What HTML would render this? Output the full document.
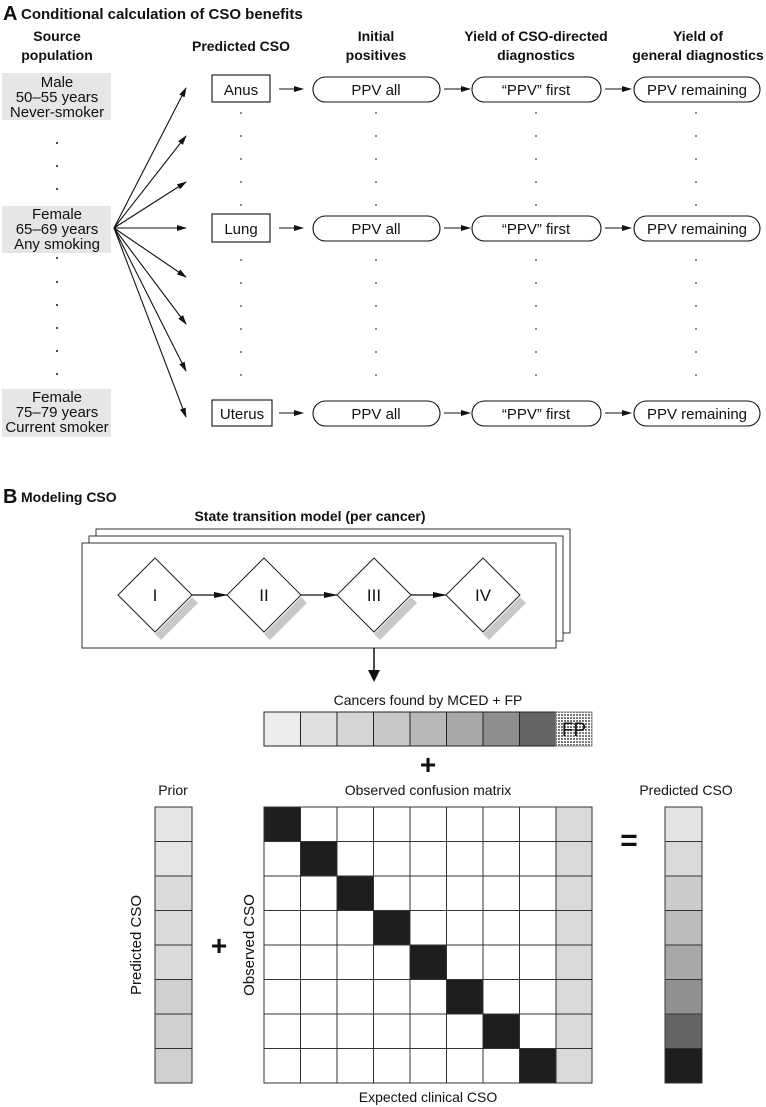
<!DOCTYPE html>
<html><head><meta charset="utf-8"><style>
html,body{margin:0;padding:0;background:#fff;}
svg{display:block;font-family:"Liberation Sans",Arial,sans-serif;}
</style></head><body>
<svg width="766" height="1107" viewBox="0 0 766 1107" xmlns="http://www.w3.org/2000/svg">
<defs>
<marker id="ah" markerWidth="10" markerHeight="8" refX="9" refY="4" orient="auto" markerUnits="userSpaceOnUse"><path d="M0,1 L10,4 L0,7 z" fill="#111"/></marker>
<marker id="ah2" markerWidth="14" markerHeight="8" refX="13" refY="4" orient="auto" markerUnits="userSpaceOnUse"><path d="M0,1 L14,4 L0,7 z" fill="#111"/></marker>
<pattern id="dots" width="3" height="3" patternUnits="userSpaceOnUse"><rect width="3" height="3" fill="#fff"/><rect width="2" height="2" fill="#777"/></pattern>
</defs>
<g fill="#111">
<text x="3" y="20" font-size="20" font-weight="bold">A</text>
<text x="21" y="19" font-size="15" font-weight="bold">Conditional calculation of CSO benefits</text>
<g font-size="14" font-weight="bold" text-anchor="middle">
<text x="57" y="41">Source</text><text x="57" y="60">population</text>
<text x="241" y="51">Predicted CSO</text>
<text x="376" y="41">Initial</text><text x="376" y="60">positives</text>
<text x="536" y="41">Yield of CSO-directed</text><text x="536" y="60">diagnostics</text>
<text x="698" y="41">Yield of</text><text x="698" y="60">general diagnostics</text>
</g>
</g>
<g fill="#e6e6e6">
<rect x="2" y="73" width="109" height="47"/>
<rect x="2" y="206" width="109" height="47"/>
<rect x="2" y="389" width="109" height="48"/>
</g>
<g font-size="15" text-anchor="middle" fill="#111">
<text x="57" y="87">Male</text><text x="57" y="102">50–55 years</text><text x="57" y="117">Never-smoker</text>
<text x="57" y="219">Female</text><text x="57" y="234">65–69 years</text><text x="57" y="249">Any smoking</text>
<text x="57" y="402">Female</text><text x="57" y="417">75–79 years</text><text x="57" y="432">Current smoker</text>
</g>
<g fill="#111">
<circle cx="57" cy="143" r="1"/><circle cx="57" cy="166" r="1"/><circle cx="57" cy="189" r="1"/>
<circle cx="57" cy="258" r="1"/><circle cx="57" cy="282" r="1"/><circle cx="57" cy="305" r="1"/><circle cx="57" cy="328" r="1"/><circle cx="57" cy="351" r="1"/><circle cx="57" cy="374" r="1"/>
</g>
<g stroke="#111" stroke-width="1.1" marker-end="url(#ah)">
<line x1="114" y1="228" x2="186" y2="88"/>
<line x1="114" y1="228" x2="186" y2="136"/>
<line x1="114" y1="228" x2="186" y2="182"/>
<line x1="114" y1="228" x2="186" y2="228"/>
<line x1="114" y1="228" x2="186" y2="277"/>
<line x1="114" y1="228" x2="186" y2="324"/>
<line x1="114" y1="228" x2="186" y2="371"/>
<line x1="114" y1="228" x2="186" y2="417"/>
</g>
<g>
<g fill="#fff" stroke="#111" stroke-width="1.1">
<rect x="212" y="75" width="58" height="27"/>
<rect x="313" y="77" width="127" height="25" rx="12.5"/>
<rect x="472" y="77" width="129" height="25" rx="12.5"/>
<rect x="634" y="77" width="126" height="25" rx="12.5"/>
</g>
<g stroke="#111" stroke-width="1.1" marker-end="url(#ah)">
<line x1="279" y1="89" x2="303" y2="89"/><line x1="444" y1="89" x2="470" y2="89"/><line x1="605" y1="89" x2="631" y2="89"/>
</g>
<g font-size="15" text-anchor="middle" fill="#111">
<text x="241" y="95">Anus</text><text x="376" y="95">PPV all</text><text x="536" y="95">“PPV” first</text><text x="697" y="95">PPV remaining</text>
</g>
</g>
<g>
<g fill="#fff" stroke="#111" stroke-width="1.1">
<rect x="212" y="214" width="58" height="28"/>
<rect x="313" y="216" width="127" height="25" rx="12.5"/>
<rect x="472" y="216" width="129" height="25" rx="12.5"/>
<rect x="634" y="216" width="126" height="25" rx="12.5"/>
</g>
<g stroke="#111" stroke-width="1.1" marker-end="url(#ah)">
<line x1="279" y1="228" x2="303" y2="228"/><line x1="444" y1="228" x2="470" y2="228"/><line x1="605" y1="228" x2="631" y2="228"/>
</g>
<g font-size="15" text-anchor="middle" fill="#111">
<text x="241" y="234">Lung</text><text x="376" y="234">PPV all</text><text x="536" y="234">“PPV” first</text><text x="697" y="234">PPV remaining</text>
</g>
</g>
<g>
<g fill="#fff" stroke="#111" stroke-width="1.1">
<rect x="212" y="400" width="60" height="26"/>
<rect x="313" y="401" width="127" height="25" rx="12.5"/>
<rect x="472" y="401" width="129" height="25" rx="12.5"/>
<rect x="634" y="401" width="126" height="25" rx="12.5"/>
</g>
<g stroke="#111" stroke-width="1.1" marker-end="url(#ah)">
<line x1="279" y1="413" x2="303" y2="413"/><line x1="444" y1="413" x2="470" y2="413"/><line x1="605" y1="413" x2="631" y2="413"/>
</g>
<g font-size="15" text-anchor="middle" fill="#111">
<text x="242" y="419">Uterus</text><text x="376" y="419">PPV all</text><text x="536" y="419">“PPV” first</text><text x="697" y="419">PPV remaining</text>
</g>
</g>
<g fill="#333">
<g id="dc"><circle cx="241" cy="113" r="0.9"/><circle cx="241" cy="136" r="0.9"/><circle cx="241" cy="159" r="0.9"/><circle cx="241" cy="182" r="0.9"/><circle cx="241" cy="205" r="0.9"/>
<circle cx="241" cy="260" r="0.9"/><circle cx="241" cy="283" r="0.9"/><circle cx="241" cy="306" r="0.9"/><circle cx="241" cy="329" r="0.9"/><circle cx="241" cy="352" r="0.9"/><circle cx="241" cy="375" r="0.9"/></g>
<use href="#dc" x="135"/><use href="#dc" x="295"/><use href="#dc" x="455"/>
</g>
<text x="3" y="503" font-size="20" font-weight="bold" fill="#111">B</text>
<text x="21" y="502" font-size="14" font-weight="bold" fill="#111">Modeling CSO</text>
<text x="310" y="521" font-size="14" font-weight="bold" text-anchor="middle" fill="#111">State transition model (per cancer)</text>
<g fill="#fff" stroke="#333" stroke-width="1">
<rect x="96" y="529" width="474" height="104"/>
<rect x="89" y="536" width="474" height="105"/>
<rect x="82" y="543" width="474" height="105"/>
</g>
<g id="dm">
<path d="M192,597 L198,603 L161,640 L155,634 z" fill="#c8c8c8"/>
<path d="M155,558 L192,595 L155,632 L118,595 z" fill="#fff" stroke="#222" stroke-width="1"/>
</g>
<use href="#dm" x="109"/><use href="#dm" x="219"/><use href="#dm" x="328"/>
<g stroke="#111" stroke-width="1.2" marker-end="url(#ah2)">
<line x1="192" y1="595" x2="227" y2="595"/><line x1="301" y1="595" x2="337" y2="595"/><line x1="411" y1="595" x2="446" y2="595"/>
</g>
<g font-size="17" text-anchor="middle" fill="#111">
<text x="155" y="601">I</text><text x="264" y="601">II</text><text x="374" y="601">III</text><text x="483" y="601">IV</text>
</g>
<line x1="374" y1="648" x2="374" y2="680" stroke="#111" stroke-width="1.5"/>
<path d="M368,670 L374,682 L380,670 z" fill="#111"/>
<text x="428" y="705" font-size="14" text-anchor="middle" fill="#111">Cancers found by MCED + FP</text>
<g stroke="#222" stroke-width="1">
<rect x="264" y="712" width="36.5" height="34" fill="#ececec"/>
<rect x="300.5" y="712" width="36.5" height="34" fill="#e0e0e0"/>
<rect x="337" y="712" width="36.5" height="34" fill="#d6d6d6"/>
<rect x="373.5" y="712" width="36.5" height="34" fill="#c8c8c8"/>
<rect x="410" y="712" width="36.5" height="34" fill="#b8b8b8"/>
<rect x="446.5" y="712" width="36.5" height="34" fill="#a8a8a8"/>
<rect x="483" y="712" width="36.5" height="34" fill="#8e8e8e"/>
<rect x="519.5" y="712" width="36.5" height="34" fill="#646464"/>
<rect x="556" y="712" width="36" height="34" fill="url(#dots)" stroke="#888"/>
</g>
<text x="574" y="736" font-size="19" text-anchor="middle" fill="#111">FP</text>
<text x="428" y="774" font-size="28" font-weight="bold" text-anchor="middle" fill="#111">+</text>
<g font-size="14" text-anchor="middle" fill="#111">
<text x="173" y="795">Prior</text>
<text x="428" y="795">Observed confusion matrix</text>
<text x="686" y="795">Predicted CSO</text>
<text x="428" y="1102">Expected clinical CSO</text>
</g>
<text transform="translate(141,945) rotate(-90)" font-size="15" text-anchor="middle" fill="#111">Predicted CSO</text>
<text transform="translate(254,945) rotate(-90)" font-size="15" text-anchor="middle" fill="#111">Observed CSO</text>
<text x="219" y="955" font-size="28" font-weight="bold" text-anchor="middle" fill="#111">+</text>
<text x="629" y="850" font-size="30" font-weight="bold" text-anchor="middle" fill="#111">=</text>
<g stroke="#333" stroke-width="1">
<rect x="155" y="807" width="37" height="34.5" fill="#e5e5e5"/>
<rect x="155" y="841.5" width="37" height="34.5" fill="#e5e5e5"/>
<rect x="155" y="876" width="37" height="34.5" fill="#dadada"/>
<rect x="155" y="910.5" width="37" height="34.5" fill="#dadada"/>
<rect x="155" y="945" width="37" height="34.5" fill="#dadada"/>
<rect x="155" y="979.5" width="37" height="34.5" fill="#cfcfcf"/>
<rect x="155" y="1014" width="37" height="34.5" fill="#cfcfcf"/>
<rect x="155" y="1048.5" width="37" height="34.5" fill="#cfcfcf"/>
</g>
<g stroke="#333" stroke-width="1">
<rect x="665" y="807" width="37" height="34.5" fill="#e3e3e3"/>
<rect x="665" y="841.5" width="37" height="34.5" fill="#d9d9d9"/>
<rect x="665" y="876" width="37" height="34.5" fill="#cccccc"/>
<rect x="665" y="910.5" width="37" height="34.5" fill="#bcbcbc"/>
<rect x="665" y="945" width="37" height="34.5" fill="#a8a8a8"/>
<rect x="665" y="979.5" width="37" height="34.5" fill="#909090"/>
<rect x="665" y="1014" width="37" height="34.5" fill="#646464"/>
<rect x="665" y="1048.5" width="37" height="34.5" fill="#1e1e1e"/>
</g>
<rect x="556" y="807" width="36" height="276" fill="#d9d9d9"/>
<g fill="#1e1e1e">
<rect x="264" y="807" width="36.5" height="34.5"/>
<rect x="300.5" y="841.5" width="36.5" height="34.5"/>
<rect x="337" y="876" width="36.5" height="34.5"/>
<rect x="373.5" y="910.5" width="36.5" height="34.5"/>
<rect x="410" y="945" width="36.5" height="34.5"/>
<rect x="446.5" y="979.5" width="36.5" height="34.5"/>
<rect x="483" y="1014" width="36.5" height="34.5"/>
<rect x="519.5" y="1048.5" width="36.5" height="34.5"/>
</g>
<g stroke="#333" stroke-width="1" fill="none">
<rect x="264" y="807" width="328" height="276"/>
<path d="M300.5,807V1083M337,807V1083M373.5,807V1083M410,807V1083M446.5,807V1083M483,807V1083M519.5,807V1083M556,807V1083"/>
<path d="M264,841.5H592M264,876H592M264,910.5H592M264,945H592M264,979.5H592M264,1014H592M264,1048.5H592"/>
</g>
</svg>
</body></html>
